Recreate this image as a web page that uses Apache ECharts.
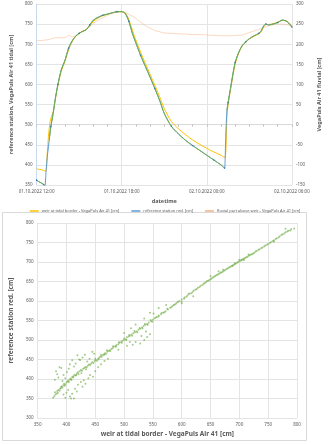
<!DOCTYPE html>
<html><head><meta charset="utf-8">
<script src="https://cdn.jsdelivr.net/npm/echarts@6/dist/echarts.min.js"></script>
<style>html,body{margin:0;padding:0;background:#fff}#c{width:330px;height:444px}</style>
</head><body><div id="c"></div>
<script>
const times = [
"2022-10-01 12:00","2022-10-01 12:10","2022-10-01 12:20","2022-10-01 12:30","2022-10-01 12:35",
"2022-10-01 12:40","2022-10-01 12:45","2022-10-01 12:50","2022-10-01 12:55","2022-10-01 13:00",
"2022-10-01 13:10","2022-10-01 13:20","2022-10-01 13:30","2022-10-01 13:45","2022-10-01 14:00",
"2022-10-01 14:15","2022-10-01 14:30","2022-10-01 14:45","2022-10-01 15:00","2022-10-01 15:15",
"2022-10-01 15:30","2022-10-01 15:45","2022-10-01 16:00","2022-10-01 16:20","2022-10-01 16:40",
"2022-10-01 17:00","2022-10-01 17:20","2022-10-01 17:40","2022-10-01 18:00","2022-10-01 18:15",
"2022-10-01 18:30","2022-10-01 18:45","2022-10-01 19:00","2022-10-01 19:20","2022-10-01 19:40",
"2022-10-01 20:00","2022-10-01 20:20","2022-10-01 20:40","2022-10-01 21:00","2022-10-01 21:30",
"2022-10-01 22:00","2022-10-01 22:30","2022-10-01 23:00","2022-10-01 23:30","2022-10-02 00:00",
"2022-10-02 00:30","2022-10-02 01:00","2022-10-02 01:10","2022-10-02 01:15","2022-10-02 01:20",
"2022-10-02 01:25","2022-10-02 01:30","2022-10-02 01:40","2022-10-02 01:50","2022-10-02 02:00",
"2022-10-02 02:15","2022-10-02 02:30","2022-10-02 02:45","2022-10-02 03:00","2022-10-02 03:20",
"2022-10-02 03:40","2022-10-02 03:50","2022-10-02 04:00","2022-10-02 04:10","2022-10-02 04:20",
"2022-10-02 04:40","2022-10-02 05:00","2022-10-02 05:20","2022-10-02 05:40","2022-10-02 06:00"];

const weir = [390,389,388,386,385,384,430,470,500,515,532,566,597,634,657,686,706,719,727,733,
737,745,757,765,771,774,778,780,781,778,762,735,710,680,652,625,598,570,540,508,
490,475,462,451,441,432,424,420,418,430,520,550,585,620,650,678,695,705,713,720,
726,731,742,749,749,751,755,759,757,745];

const reference = [362,358,355,351,348,385,420,445,470,495,528,568,600,638,660,690,708,720,727,732,
736,748,760,767,772,775,778,781,781,776,757,727,703,672,645,618,590,561,528,496,
477,461,448,436,424,412,400,395,392,470,535,555,590,625,655,680,697,706,714,721,
727,733,745,750,748,750,754,760,756,743];

const fluvial = [208,209,209,210,210,211,211,212,212,213,215,216,216,216,216,222,218,222,227,232,
237,244,252,260,266,272,277,280,281,279,274,270,264,255,246,240,234,231,228,227,
226,225,224,224,223,222,221,221,221,221,221,221,221,221,222,222,223,226,229,233,
237,239,241,243,245,248,250,250,248,244];

const jumpTimes = ["2022-10-01 12:40","2022-10-01 12:45","2022-10-01 12:50","2022-10-02 01:20"];

const xTickLabels = ["01.10.2022 12:00","01.10.2022 18:00","02.10.2022 00:00","02.10.2022 06:00"];

const scatterWeir = [
377,379,381,380,383,384,386,388,390,391,393,395,396,398,400,402,404,405,407,409,
410,412,414,416,418,420,421,423,425,427,429,431,433,435,437,439,441,443,445,447,
449,451,453,455,457,459,461,463,465,467,469,471,473,475,478,480,482,485,487,490,
492,495,497,500,503,505,508,510,513,516,519,522,525,528,531,534,537,540,543,547,
550,553,557,560,564,568,572,576,580,584,588,592,596,600,605,610,614,619,624,628,
633,638,642,646,650,654,658,662,666,670,674,678,682,686,690,694,698,702,706,710,
714,718,722,726,730,735,740,745,750,755,760,765,770,775,780,785,790,
380,382,384,386,388,391,393,395,398,401,404,406,410,413,416,419,422,424,428,432,
436,440,445,448,395,398,400,403,406,408,410,413,415,418,420,425,428,430,433,438,
441,446,450,455,460,466,472,500,512,520,535,551,573,560,545,528,540,535,530,520,
515,545,538,510,490,505,600,620,650,700,760,780,795,664,672,688,692,704,708,716,
600,604,608,612,617,621,626,631,636,640,644,648,652,656,660,664,668,672,676,680,
684,688,692,696,700,704,708,712,716,720,724,728,733,738,743,748,753,758,763,768,
773,778,783,788,560,565,570,575,582,586,590,594,500,504,509,514,518,523,527,532,
536,541,546,549,555,450,456,460,466,470,476,481,486,491,496,
385,389,392,397,403,408,412,417,426,434];

const scatterRef = [
352,356,360,366,363,369,372,370,376,380,378,384,388,386,391,394,392,398,401,399,
405,407,410,409,414,417,413,420,423,421,426,428,431,430,434,437,436,440,443,441,
446,449,447,452,455,458,457,461,463,466,465,470,472,474,477,479,483,484,487,489,
493,495,498,500,502,507,509,511,514,517,520,522,526,529,532,536,539,541,545,548,
552,556,559,563,566,570,574,578,583,587,591,596,600,604,609,614,619,624,629,634,
639,644,648,652,656,660,664,667,671,674,678,682,686,689,692,696,700,703,707,710,
713,717,720,724,728,733,737,742,746,751,756,761,766,771,776,780,784,
398,420,412,404,430,428,395,410,402,418,426,438,448,432,440,461,450,449,455,462,
445,452,470,465,360,352,365,372,355,350,362,350,375,368,385,392,380,397,388,402,
410,406,420,430,438,446,452,518,530,540,555,568,590,582,570,491,508,500,510,495,
488,515,522,495,475,485,594,612,664,706,752,785,786,676,680,690,697,706,705,719,
598,606,611,618,620,627,631,636,641,646,651,654,658,662,666,669,673,676,680,684,
687,691,694,698,702,705,709,712,716,719,722,727,731,735,740,744,749,754,759,763,
769,773,778,781,560,569,571,580,584,590,593,598,504,500,513,511,523,520,531,530,
541,539,551,547,558,452,450,462,463,474,472,484,483,494,493,
364,375,381,383,394,398,404,410,415,425];

function toHours(s){
  const d = parseInt(s.slice(8,10),10), h = parseInt(s.slice(11,13),10), m = parseInt(s.slice(14,16),10);
  return (d-1)*24 + h + m/60 - 12;
}
const xs = times.map(toHours);
const pair = (arr) => arr.map((v,i)=>[xs[i], v]);
const greenRef = reference.map((v,i)=> jumpTimes.includes(times[i]) ? [xs[i], null] : [xs[i], v]);
const scatterData = scatterWeir.map((v,i)=>[v, scatterRef[i]]);

const FONT = 'Noto Sans';
const lab = {fontFamily: FONT, fontSize: 4.5, color: '#595959'};
const ttl = {fontFamily: FONT, fontSize: 5.5, fontWeight: 'bold', color: '#595959'};
const grid = '#E4E4E4';

const chart = echarts.init(document.getElementById('c'), null, {renderer:'canvas'});
chart.setOption({
  animation: false,
  backgroundColor: '#ffffff',
  graphic: [{type:'rect', shape:{x:2.5, y:212.5, width:304, height:228}, style:{fill:'none', stroke:'#D9D9D9', lineWidth:1}, silent:true}],
  grid: [
    {left:21, top:4, width:287, height:181},
    {left:25, top:223, width:272, height:195}
  ],
  legend: {
    top: 204, left: 'center', itemWidth: 9, itemHeight: 1.5, itemGap: 12, icon: 'rect',
    textStyle: {fontFamily: FONT, fontSize: 4, color:'#595959', padding:[0,0,0,-2]},
    data: [
      {name:'weir at tidal border - VegaPuls Air 41 [cm]', itemStyle:{color:'#FFC000'}},
      {name:'reference station red. [cm]', itemStyle:{color:'#5B9BD5'}},
      {name:'fluvial part above weir - VegaPuls Air 41 [cm]', itemStyle:{color:'#F4B183'}}
    ]
  },
  xAxis: [
    {type:'value', gridIndex:0, min:0, max:18, interval:6,
     name:'datetime', nameLocation:'middle', nameGap:13, nameTextStyle:ttl,
     axisLine:{show:true, lineStyle:{color:'#D9D9D9'}},
     axisTick:{show:true, length:2, lineStyle:{color:'#BFBFBF'}},
     minorTick:{show:true, splitNumber:6, length:2, lineStyle:{color:'#BFBFBF'}},
     axisLabel:{...lab, margin:4, formatter:(v)=>xTickLabels[Math.round(v/6)]},
     splitLine:{show:true, lineStyle:{color:grid}}},
    {type:'value', gridIndex:1, min:350, max:800, interval:50,
     name:'weir at tidal border - VegaPuls Air 41 [cm]', nameLocation:'middle', nameGap:13,
     nameTextStyle:{fontFamily:FONT, fontSize:6.5, fontWeight:'bold', color:'#595959'},
     axisLine:{show:false}, axisTick:{show:false},
     axisLabel:{...lab, fontSize:4.5, margin:4},
     splitLine:{show:true, lineStyle:{color:grid}}}
  ],
  yAxis: [
    {type:'value', gridIndex:0, min:350, max:800, interval:50, position:'left',
     name:'reference station, VegaPuls Air 41 tidal [cm]', nameLocation:'middle', nameGap:14, nameRotate:90,
     nameTextStyle:ttl,
     axisLine:{show:true, lineStyle:{color:'#C9DAEE'}}, axisTick:{show:false},
     axisLabel:{...lab, margin:4},
     splitLine:{show:true, lineStyle:{color:grid}}},
    {type:'value', gridIndex:0, min:-150, max:300, interval:50, position:'right',
     name:'VegaPuls Air 41 fluvial [cm]', nameLocation:'middle', nameGap:14, nameRotate:90,
     nameTextStyle:ttl,
     axisLine:{show:false}, axisTick:{show:false},
     axisLabel:{...lab, margin:4},
     splitLine:{show:false}},
    {type:'value', gridIndex:1, min:300, max:800, interval:50,
     name:'reference station red. [cm]', nameLocation:'middle', nameGap:15, nameRotate:90,
     nameTextStyle:{fontFamily:FONT, fontSize:6.5, fontWeight:'bold', color:'#595959'},
     axisLine:{show:false}, axisTick:{show:false},
     axisLabel:{...lab, margin:4},
     splitLine:{show:true, lineStyle:{color:grid}}}
  ],
  series: [
    {name:'fluvial part above weir - VegaPuls Air 41 [cm]', type:'line', xAxisIndex:0, yAxisIndex:1,
     data: pair(fluvial), showSymbol:false, smooth:0.3, color:'#F4B183',
     lineStyle:{width:0.9, color:'#F4B183', opacity:0.55}, z:1},
    {name:'weir at tidal border - VegaPuls Air 41 [cm]', type:'line', xAxisIndex:0, yAxisIndex:0,
     data: pair(weir), showSymbol:false, smooth:0.3, color:'#FFC000',
     lineStyle:{width:1, color:'#FFC000'}, z:2},
    {name:'reference station red. [cm]', type:'line', xAxisIndex:0, yAxisIndex:0,
     data: pair(reference), showSymbol:false, smooth:0.3, color:'#5B9BD5',
     lineStyle:{width:1, color:'#5B9BD5'}, z:3},
    {name:'reference station red. [cm] (markers)', type:'line', xAxisIndex:0, yAxisIndex:0,
     data: greenRef, connectNulls:false, smooth:0.3,
     symbol:(val, params)=> (params.dataIndex % 3 === 0 ? 'circle' : 'none'), symbolSize:1.6,
     showSymbol:true, showAllSymbol:true,
     itemStyle:{color:'#3A78B0', borderWidth:0},
     lineStyle:{width:1, color:'#70AD47'}, z:4},
    {name:'scatter', type:'scatter', xAxisIndex:1, yAxisIndex:2,
     data: scatterData, symbolSize:2,
     itemStyle:{color:'rgba(112,173,71,0.8)'}}
  ]
});
</script>
</body></html>
